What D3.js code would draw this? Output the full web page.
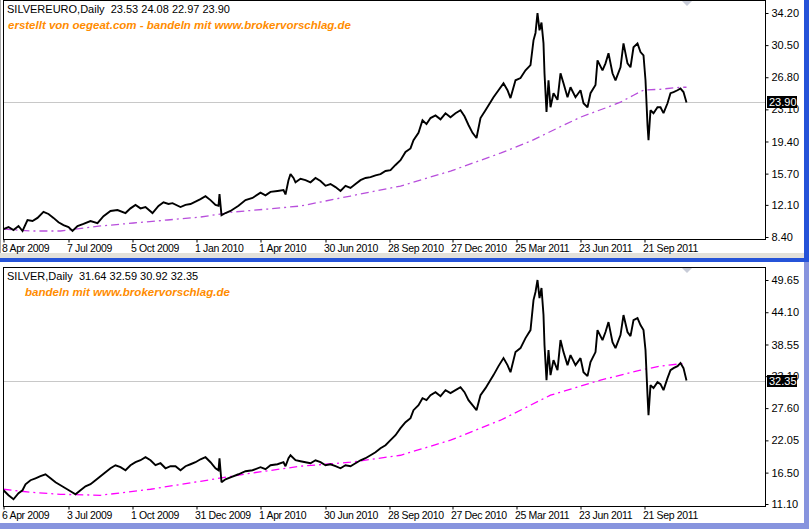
<!DOCTYPE html>
<html>
<head>
<meta charset="utf-8">
<script src="https://cdn.jsdelivr.net/npm/d3@7"></script>
<style>
body { margin: 0; background: #fff; }
text { font-family: "Liberation Sans", Arial, sans-serif; }
</style>
</head>
<body>
<div id="canvas"></div>
<script>
// ----------------------------------------------------------
// DATA -----------------------------------------------------
// ----------------------------------------------------------
// bar number (1 trading day per bar) and price
var eur_bars = [0,5,10,15,19,24,29,34,40,45,50,55,60,65,69,74,80,87,94,100,107,114,122,127,132,137,142,149,155,160,165,169,177,182,187,193,197,202,207,212,215,216,218,222,227,235,242,249,257,262,267,274,280,282,285,287,290,292,297,302,307,312,317,322,327,332,337,342,347,352,357,362,367,372,377,382,387,392,397,402,407,410,415,419,423,427,432,437,442,447,452,457,461,465,469,473,477,482,490,495,500,504,507,512,517,522,527,530,532,534,536,538,540,541,543,545,547,550,554,557,560,564,567,572,577,580,584,587,592,594,599,602,605,609,612,617,620,624,627,630,634,637,640,642,644,645,647,650,654,657,660,664,667,670,674,677,680,683];
var eur_close = [9.32,9.55,9.20,9.67,9.09,10.36,10.24,10.60,11.30,11.05,10.60,10.10,9.78,9.55,9.09,9.67,9.90,10.24,10.00,10.80,11.40,11.50,11.16,11.70,12.10,11.70,11.85,11.16,11.97,12.40,12.20,12.30,11.85,12.10,12.20,12.54,12.77,13.10,12.65,12.10,12.00,13.35,10.90,11.16,11.40,12.00,12.65,12.90,13.50,13.20,13.60,13.70,13.80,13.30,14.95,15.65,15.20,14.70,15.10,14.95,14.70,15.20,14.85,14.30,14.50,14.15,13.70,14.30,14.05,14.50,14.95,15.20,15.30,15.50,15.65,16.00,16.10,16.70,17.25,18.20,18.60,19.55,20.40,21.85,21.40,22.10,22.40,21.95,22.65,22.20,22.65,23.00,22.30,21.30,20.40,19.80,22.10,23.00,24.50,25.30,26.10,25.30,24.40,26.45,26.70,27.60,28.20,31.05,31.90,34.20,32.20,33.10,30.70,27.26,22.80,26.45,23.35,24.96,24.20,27.26,26.10,24.50,25.65,24.50,25.30,23.80,23.35,24.96,25.90,28.75,27.60,28.40,29.56,27.26,26.45,27.95,30.70,28.40,27.95,30.25,30.70,29.70,29.33,26.45,21.30,19.55,23.00,22.66,23.35,23.35,22.66,23.80,24.96,25.10,25.30,25.50,25.10,23.90];
var eur_ma_bars = [0,27,57,97,130,164,197,230,264,297,347,397,447,497,527,554,577,604,617,630,640,657,677,683];
var eur_ma = [9.32,9.09,9.09,9.67,10.01,10.36,10.70,11.28,11.62,11.97,13.12,14.27,15.99,18.06,19.44,20.94,22.20,23.35,23.93,24.73,25.31,25.42,25.65,25.65];

var usd_bars = [0,5,10,15,19,22,27,32,37,42,47,52,57,62,67,72,77,82,87,92,97,102,107,112,117,122,127,132,137,142,147,152,157,162,167,172,177,182,187,192,197,202,207,212,215,216,218,222,227,235,242,249,257,262,267,274,280,282,285,287,292,297,302,307,312,317,322,327,332,337,342,347,352,357,362,367,372,377,382,387,392,397,402,407,410,415,419,423,427,432,437,442,447,452,457,461,465,469,473,477,482,490,495,500,504,507,512,517,522,527,530,532,534,536,538,540,541,543,545,547,550,554,557,560,564,567,572,577,580,584,587,592,594,599,602,605,609,612,617,620,624,627,630,634,637,640,642,644,645,647,650,654,657,660,664,667,670,674,677,680,683];
var usd_close = [13.46,12.60,11.91,12.95,13.46,14.50,15.19,15.53,15.88,16.22,15.53,14.84,14.32,13.81,13.29,12.77,13.46,14.15,14.50,15.19,15.88,16.56,17.25,17.77,17.43,16.91,17.77,18.29,18.63,19.15,18.63,17.77,18.12,17.25,17.60,17.60,16.91,17.60,17.94,18.29,18.80,19.15,18.29,17.25,16.91,18.98,14.84,15.36,15.70,16.22,16.74,16.91,17.43,17.08,17.77,17.94,18.29,17.60,18.98,19.49,18.63,18.46,18.29,18.12,18.63,18.29,17.77,17.94,17.60,17.25,17.77,17.60,18.12,18.63,18.98,19.49,20.01,20.70,21.22,22.08,22.94,24.15,25.18,25.87,27.25,28.11,29.31,28.97,29.83,30.35,29.66,30.69,30.18,30.69,31.21,30.35,28.97,28.11,27.25,29.83,31.04,33.28,34.83,36.21,35.00,33.79,37.24,37.93,39.65,41.03,46.20,47.58,49.65,46.54,48.27,43.62,38.45,32.42,37.58,33.28,35.86,34.14,39.31,37.24,35.00,36.72,35.00,36.21,33.79,33.11,35.52,37.24,41.03,39.31,40.69,42.41,38.96,37.93,40.17,43.62,40.69,40.00,42.75,43.10,41.89,41.03,37.58,29.83,26.39,31.55,31.04,32.07,31.73,30.69,32.76,34.14,34.48,34.83,35.35,34.48,32.35];
var usd_ma_bars = [0,27,57,97,147,197,247,297,347,397,447,497,547,597,637,657,683];
var usd_ma = [13.64,13.12,12.77,12.60,13.64,15.01,16.39,17.60,18.29,19.49,22.08,25.52,29.83,32.42,34.14,34.83,35.35];

// axis labels
var eur_ticks = [34.20, 30.50, 26.80, 23.10, 19.40, 15.70, 12.10, 8.40];
var usd_ticks = [49.65, 44.10, 38.55, 33.10, 27.60, 22.05, 16.50, 11.10];
var date_bars = [0, 65, 129, 193, 257, 322, 386, 449, 513, 577, 641];
var eur_dates = ["8 Apr 2009","7 Jul 2009","5 Oct 2009","1 Jan 2010","1 Apr 2010","30 Jun 2010","28 Sep 2010","27 Dec 2010","25 Mar 2011","23 Jun 2011","21 Sep 2011"];
var usd_dates = ["6 Apr 2009","3 Jul 2009","1 Oct 2009","31 Dec 2009","1 Apr 2010","30 Jun 2010","28 Sep 2010","27 Dec 2010","25 Mar 2011","23 Jun 2011","21 Sep 2011"];

// ----------------------------------------------------------
// STRUCTURE ------------------------------------------------
// ----------------------------------------------------------
var W = 809, H = 529;
var svg = d3.select("#canvas").append("svg")
.attr("width", W).attr("height", H)
.style("display", "block");

// window chrome
svg.append("rect").attr("x", 0).attr("y", 0).attr("width", W).attr("height", H).style("fill", "#fff");
svg.append("rect").attr("x", 0).attr("y", 0).attr("width", 1).attr("height", 254).style("fill", "#a8a8a8");
svg.append("rect").attr("x", 0).attr("y", 253).attr("width", 804).attr("height", 5).style("fill", "#e3e1da");
svg.append("rect").attr("x", 0).attr("y", 258).attr("width", W).attr("height", 4).style("fill", "#2553d8");
svg.append("rect").attr("x", 804).attr("y", 0).attr("width", 5).attr("height", 262).style("fill", "#2553d8");
svg.append("rect").attr("x", 804).attr("y", 262).attr("width", 5).attr("height", 267).style("fill", "#8794de");
svg.append("rect").attr("x", 0).attr("y", 523).attr("width", W).attr("height", 6).style("fill", "#8794de");

// x scale: one pixel per bar
var xScale = d3.scaleLinear().domain([0, 762]).range([3.5, 765.5]);

function panel(cfg) {
  var g = svg.append("g").attr("transform", "translate(0," + cfg.top + ")");
  var h = cfg.height;
  var yScale = d3.scaleLinear().domain(cfg.domain).range([h - 3, 13]);

  // current price line
  var ly = Math.round(yScale(cfg.last));
  g.append("line")
  .attr("x1", 4).attr("x2", 765)
  .attr("y1", ly + 0.5).attr("y2", ly + 0.5)
  .style("stroke", "#c8c8c8");

  // moving average
  var line = d3.line()
  .x(function(d) { return xScale(d[0]); })
  .y(function(d) { return yScale(d[1]); });
  g.append("path")
  .datum(d3.zip(cfg.ma_bars, cfg.ma))
  .attr("d", line)
  .style("fill", "none").style("stroke", cfg.ma_color).style("stroke-width", 1.3)
  .style("stroke-dasharray", "8,4,2,4");

  // price
  g.append("path")
  .datum(d3.zip(cfg.bars, cfg.close))
  .attr("d", line)
  .style("fill", "none").style("stroke", "#000").style("stroke-width", 1.9)
  .style("stroke-linejoin", "miter").style("stroke-miterlimit", 2);

  // frame
  g.append("rect")
  .attr("x", 3.5).attr("y", 0.5).attr("width", 762).attr("height", h - 1)
  .style("fill", "none").style("stroke", "#000");

  // shift marker
  g.append("path")
  .attr("d", "M682,1 L692,1 L687,6 Z")
  .style("fill", "#c8ccd8");

  // y axis
  var yAxis = d3.axisRight(yScale)
  .tickValues(cfg.ticks)
  .tickSize(3)
  .tickPadding(3)
  .tickFormat(d3.format(".2f"));
  g.append("g")
  .attr("transform", "translate(765.5,0)")
  .call(function(a) {
    a.call(yAxis);
    a.select(".domain").remove();
    a.selectAll(".tick line").style("stroke", "#000");
    a.selectAll(".tick text").style("font-size", "11px").style("fill", "#000")
    .style("font-family", "Liberation Sans, Arial, sans-serif");
  });

  // current price label
  g.append("rect").attr("x", 767).attr("y", ly - 6).attr("width", 30).attr("height", 12).style("fill", "#000");
  g.append("text").attr("x", 769).attr("y", ly + 4)
  .text(d3.format(".2f")(cfg.last))
  .style("fill", "#fff").style("font-size", "11px");

  // x axis
  var xAxis = d3.axisBottom(xScale)
  .tickValues(date_bars)
  .tickSize(3)
  .tickPadding(2)
  .tickFormat(function(d, i) { return cfg.dates[i]; });
  g.append("g")
  .attr("transform", "translate(0," + (h - 0.5) + ")")
  .call(function(a) {
    a.call(xAxis);
    a.select(".domain").remove();
    a.selectAll(".tick line").style("stroke", "#000");
    a.selectAll(".tick text").attr("text-anchor", "start").attr("x", -2)
    .style("font-size", "10.5px").style("letter-spacing", "-0.35px").style("fill", "#000")
    .style("font-family", "Liberation Sans, Arial, sans-serif");
  });

  // texts
  g.append("text").attr("x", 7).attr("y", 13)
  .text(cfg.title).style("font-size", "11px").style("fill", "#000")
  .attr("xml:space", "preserve").style("white-space", "pre");
  g.append("text").attr("x", cfg.note_x).attr("y", 29)
  .text(cfg.note).style("font-size", "10px").style("font-weight", "bold")
  .style("font-style", "italic").style("fill", "#ff8c00")
  .attr("textLength", cfg.note_len).attr("lengthAdjust", "spacingAndGlyphs");
}

panel({
  top: 0, height: 240, domain: [8.40, 34.20], last: 23.90,
  bars: eur_bars, close: eur_close, ma_bars: eur_ma_bars, ma: eur_ma, ma_color: "#b84fdc",
  ticks: eur_ticks, dates: eur_dates,
  title: "SILVEREURO,Daily  23.53 24.08 22.97 23.90",
  note: "erstellt von oegeat.com - bandeln mit www.brokervorschlag.de", note_x: 8, note_len: 343
});
panel({
  top: 267, height: 240, domain: [11.10, 49.65], last: 32.35,
  bars: usd_bars, close: usd_close, ma_bars: usd_ma_bars, ma: usd_ma, ma_color: "#ff00ff",
  ticks: usd_ticks, dates: usd_dates,
  title: "SILVER,Daily  31.64 32.59 30.92 32.35",
  note: "bandeln mit www.brokervorschlag.de", note_x: 25, note_len: 205
});
</script>
</body>
</html>
